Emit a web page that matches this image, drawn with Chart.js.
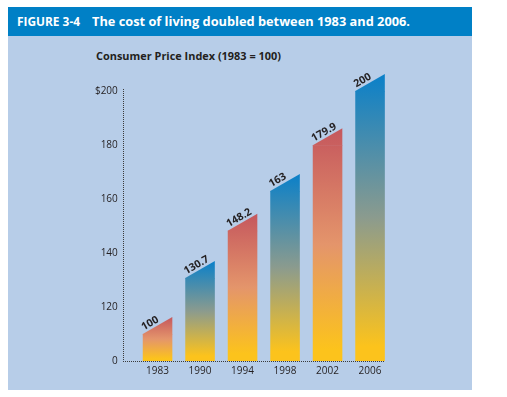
<!DOCTYPE html>
<html>
<head>
<meta charset="utf-8">
<script src="https://cdn.jsdelivr.net/npm/chart.js@4.4.1/dist/chart.umd.min.js"></script>
<style>
  html, body { margin:0; padding:0; background:#ffffff; }
  #wrap { position:relative; width:507px; height:397px; overflow:hidden; }
  #panel { position:absolute; left:8px; top:7px; width:464px; height:383px; background:#b7cde8; }
  #hdr { position:absolute; left:8px; top:7px; width:464px; height:29px; background:#0080c6; }
  .ht { position:absolute; top:0; height:29px; line-height:29px; color:#ffffff; font-family:"Open Sans",sans-serif; font-weight:700; font-size:13px; white-space:nowrap; transform-origin:left center; }
  #sub { position:absolute; top:49px; left:96px; line-height:14px; color:#231f20; font-family:"Open Sans",sans-serif; font-weight:700; font-size:11px; white-space:nowrap; transform-origin:left center; }
  canvas { position:absolute; left:0; top:0; }
</style>
</head>
<body>
<div id="wrap">
  <div id="panel"></div>
  <div id="hdr">
    <span class="ht" id="h1" style="left:9px">FIGURE 3-4</span>
    <span class="ht" id="h2" style="left:83.7px">The cost of living doubled between 1983 and 2006.</span>
  </div>
  <div id="sub">Consumer Price Index (1983 = 100)</div>
  <canvas id="c" width="507" height="397"></canvas>
</div>
<script>
// ---- data ----
const YEARS = ['1983', '1990', '1994', '1998', '2002', '2006'];
const CPI = [100, 130.7, 148.2, 163, 179.9, 200];
const VALUE_LABELS = ['100', '130.7', '148.2', '163', '179.9', '200'];
const Y_TICKS = [0, 120, 140, 160, 180, 200];
const Y_TICK_LABELS = ['0', '120', '140', '160', '180', '$200'];
// broken axis: the range BREAK_FROM..BREAK_TO fills the lowest tick gap
const BREAK_FROM = 80;
const BREAK_TO = 120;

// ---- fit header texts to original widths ----
function fit(id, target) {
  const el = document.getElementById(id);
  const w = el.getBoundingClientRect().width;
  el.style.transform = 'scaleX(' + (target / w) + ')';
}
fit('h1', 63);
fit('h2', 318);
fit('sub', 185);

// ---- broken linear scale ----
class BrokenScale extends Chart.LinearScale {
  getPixelForValue(value) {
    const B = this.bottom, T = this.top;
    const n = Y_TICKS.length - 1;
    const seg = (B - T) / n;
    const maxV = Y_TICKS[n];
    if (value >= BREAK_TO) return B - seg - (value - BREAK_TO) / (maxV - BREAK_TO) * (B - T - seg);
    if (value >= BREAK_FROM) return B - (value - BREAK_FROM) / (BREAK_TO - BREAK_FROM) * seg;
    return B;
  }
  getValueForPixel(pixel) {
    const B = this.bottom, T = this.top;
    const n = Y_TICKS.length - 1;
    const seg = (B - T) / n;
    const maxV = Y_TICKS[n];
    if (pixel <= B - seg) return BREAK_TO + (B - seg - pixel) / (B - T - seg) * (maxV - BREAK_TO);
    return BREAK_FROM + (B - pixel) / seg * (BREAK_TO - BREAK_FROM);
  }
}
BrokenScale.id = 'broken';
BrokenScale.defaults = Chart.LinearScale.defaults;
Chart.register(BrokenScale);

const SLANT = 17;
const RED = ['#c5575d', '#e4956b', '#fcc31c'];
const BLUE = ['#0a80c9', '#8b9b8e', '#fcc31c'];
const TEXT = '#231f20';

function barFill(ctx) {
  const chart = ctx.chart;
  const pal = ctx.dataIndex % 2 === 0 ? RED : BLUE;
  if (!chart.chartArea || ctx.type !== 'data') return pal[0];
  const ys = chart.scales.y;
  const top = ys.getPixelForValue(ctx.parsed.y) - SLANT;
  const base = ys.getBasePixel();
  const g = chart.ctx.createLinearGradient(0, top, 0, base);
  g.addColorStop(0, pal[0]);
  g.addColorStop(0.5, pal[1]);
  g.addColorStop(0.95, pal[2]);
  g.addColorStop(1, pal[2]);
  return g;
}

const capsPlugin = {
  id: 'caps',
  afterDatasetsDraw(chart) {
    const c = chart.ctx;
    const meta = chart.getDatasetMeta(0);
    const area = chart.chartArea;
    let lastRight = area.right;
    meta.data.forEach((bar, i) => {
      const p = bar.getProps(['x', 'y', 'width', 'base'], true);
      const left = p.x - p.width / 2, right = p.x + p.width / 2;
      lastRight = right;
      c.save();
      c.beginPath();
      c.moveTo(left, p.y + 0.5);
      c.lineTo(left, p.y);
      c.lineTo(right, p.y - SLANT);
      c.lineTo(right, p.y + 0.5);
      c.closePath();
      c.fillStyle = bar.options.backgroundColor;
      c.fill();
      c.restore();
      // value label
      const ang = Math.atan2(SLANT, p.width);
      const ax = left + 1;
      const ay = p.y - 3 - (ax - left) * SLANT / p.width;
      c.save();
      c.translate(ax, ay);
      c.rotate(-ang);
      c.font = '700 10.5px "Open Sans", sans-serif';
      c.fillStyle = TEXT;
      c.textAlign = 'left';
      c.textBaseline = 'alphabetic';
      c.fillText(VALUE_LABELS[i], 0, 0);
      c.restore();
    });
    // dotted axes
    const ax = area.left - 13.3;
    c.save();
    c.strokeStyle = '#3a3a3a';
    c.lineWidth = 1;
    c.setLineDash([1, 1]);
    c.beginPath();
    c.moveTo(Math.round(ax) + 0.5, area.top - 2);
    c.lineTo(Math.round(ax) + 0.5, area.bottom + 1);
    c.moveTo(Math.round(ax), Math.round(area.bottom) + 0.5);
    c.lineTo(lastRight, Math.round(area.bottom) + 0.5);
    c.stroke();
    c.restore();
  }
};

new Chart(document.getElementById('c'), {
  type: 'bar',
  data: {
    labels: YEARS,
    datasets: [{
      label: 'Consumer Price Index (1983 = 100)',
      data: CPI,
      backgroundColor: barFill,
      borderWidth: 0,
      barPercentage: 0.696,
      categoryPercentage: 1
    }]
  },
  options: {
    responsive: false,
    animation: false,
    devicePixelRatio: 1,
    layout: { padding: { left: 0, right: 115.7, top: 91, bottom: 0 } },
    plugins: { legend: { display: false }, tooltip: { enabled: false }, title: { display: false } },
    scales: {
      x: {
        offset: true,
        grid: { display: false, drawTicks: false },
        border: { display: false },
        ticks: { color: TEXT, padding: 4, font: { family: '"Open Sans", sans-serif', size: 10 } },
        afterFit(s) { s.height = 36; }
      },
      y: {
        type: 'broken',
        min: Y_TICKS[0],
        max: Y_TICKS[Y_TICKS.length - 1],
        grid: { display: false, drawTicks: false },
        border: { display: false },
        afterBuildTicks(s) { s.ticks = Y_TICKS.map(v => ({ value: v })); },
        ticks: {
          color: TEXT,
          padding: 18.5,
          font: { family: '"Open Sans", sans-serif', size: 10 },
          callback: (v, i) => Y_TICK_LABELS[i]
        },
        afterFit(s) { s.width = 136.3; }
      }
    }
  },
  plugins: [capsPlugin]
});
</script>
</body>
</html>
